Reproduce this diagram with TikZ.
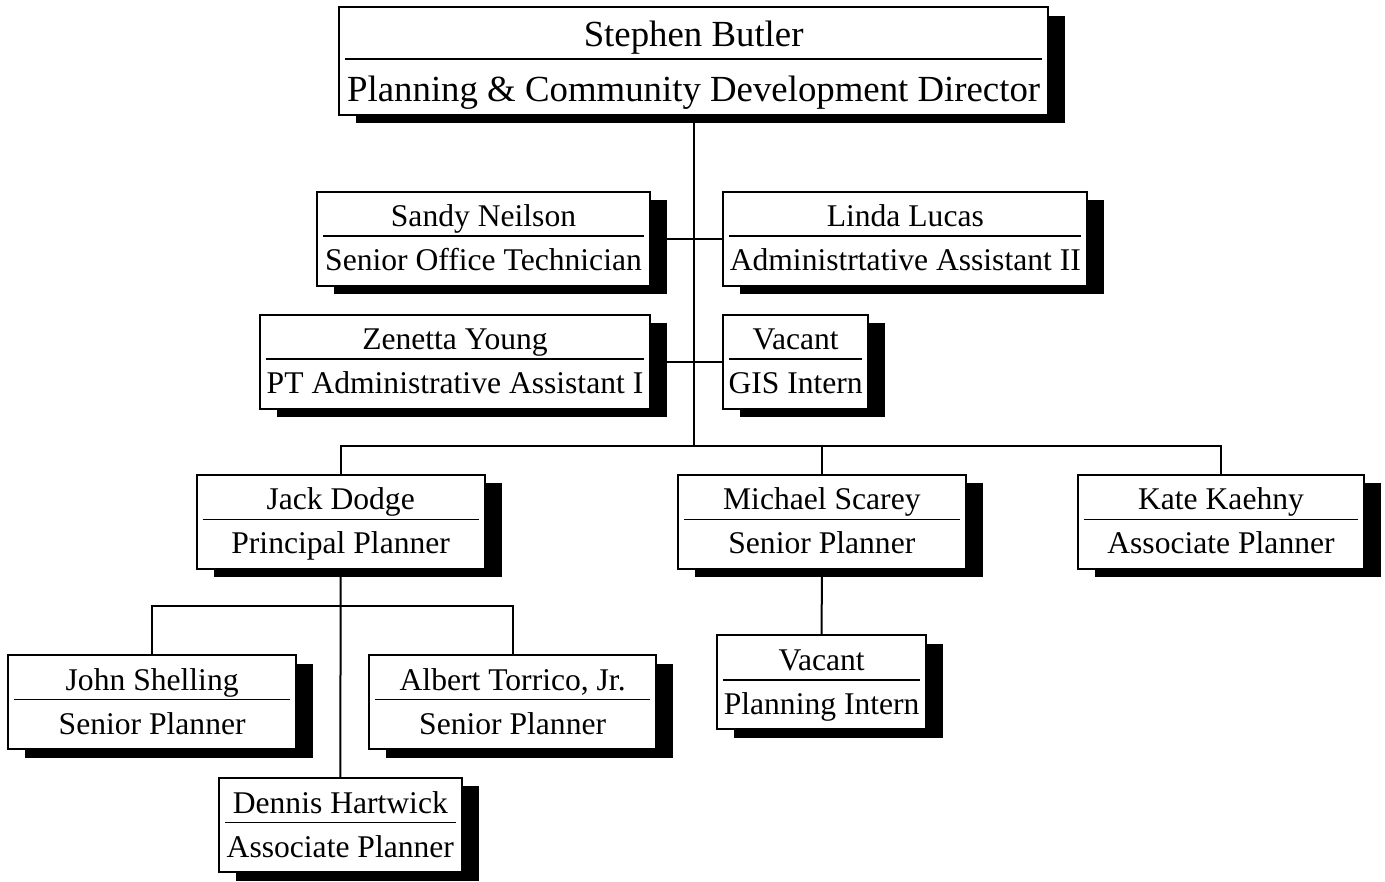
\documentclass[tikz,border=0pt]{standalone}
\usepackage{fontspec}
\setmainfont{Liberation Serif}
\usetikzlibrary{calc}

\tikzset{
  box/.style={draw=black, line width=2pt, fill=white, rectangle, inner sep=0pt, outer sep=0pt},
  dropshadow/.style={fill=black},
  divider/.style={draw=black, line width=1.1pt},
  wire/.style={draw=black, line width=2pt},
  txt/.style={anchor=base, inner sep=0pt, font=\fontsize{31.6}{38}\selectfont},
  bigtxt/.style={anchor=base, inner sep=0pt, font=\fontsize{36.8}{44}\selectfont},
}

% #1 node name, #2 left, #3 top, #4 right, #5 bottom, #6 divider y, #7 person, #8 position
\newcommand\orgbox[8]{%
  \fill[dropshadow] ({#2+17},{#3+8.5}) rectangle ({#4+17},{#5+8.5});
  \node[box, minimum width={(#4-#2)*1pt}, minimum height={(#5-#3)*1pt}]
    (#1) at ({(#2+#4)/2},{(#3+#5)/2}) {};
  \draw[divider] ({#2+6},#6) -- ({#4-6},#6);
  \node[txt] (#1-name) at ({(#2+#4)/2},{#6-9.5}) {#7};
  \node[txt] (#1-title) at ({(#2+#4)/2},{#6+34.5}) {#8};
}

\begin{document}
\begin{tikzpicture}[x=1pt,y=-1pt]
\useasboundingbox (0,0) rectangle (1385,882);

% director
\fill[dropshadow] (356.3,15.8) rectangle (1065,123.5);
\node[box, minimum width=708.7pt, minimum height=107.7pt] (director) at (693.65,61.15) {};
\draw[divider] (345.3,59) -- (1042,59);
\node[bigtxt] (director-name) at (693.65,46.7) {Stephen Butler};
\node[bigtxt] (director-title) at (693.65,101.7) {Planning \& Community Development Director};

% staff boxes
\orgbox{sandy}{317}{192}{650}{286}{236}{Sandy Neilson}{Senior Office Technician}
\orgbox{linda}{723.3}{192}{1087.3}{286}{236}{Linda Lucas}{Administrtative Assistant II}
\orgbox{zenetta}{260}{315}{650}{409}{359}{Zenetta Young}{PT Administrative Assistant I}
\orgbox{gis}{723}{315}{868.3}{409}{359}{Vacant}{GIS Intern}

\orgbox{jack}{196.5}{475}{484.8}{568.5}{519.3}{Jack Dodge}{Principal Planner}
\orgbox{michael}{678}{475}{965.7}{568.5}{519.3}{Michael Scarey}{Senior Planner}
\orgbox{kate}{1077.7}{475}{1364.3}{568.5}{519.3}{Kate Kaehny}{Associate Planner}

\orgbox{planint}{717.3}{635}{926}{729.3}{680}{Vacant}{Planning Intern}

\orgbox{john}{8.3}{655}{296}{749}{699.5}{John Shelling}{Senior Planner}
\orgbox{albert}{369.3}{655}{656}{749}{699.5}{Albert Torrico, Jr.}{Senior Planner}
\orgbox{dennis}{219}{777.5}{461.7}{872}{822.5}{Dennis Hartwick}{Associate Planner}

% reporting lines
\coordinate (bus) at (693.65,446);
\coordinate (jackbus) at (340.6,606);
\draw[wire] (director.south) -- (bus);
\draw[wire] (sandy.east) -- (linda.west);
\draw[wire] (zenetta.east) -- (gis.west);
\draw[wire] (jack.north) -- (jack.north |- bus) -- (kate.north |- bus) -- (kate.north);
\draw[wire] (michael.north) -- (michael.north |- bus);
\draw[wire] (michael.south) -- (planint.north);
\draw[wire] (jack.south) -- (dennis.north);
\draw[wire] (john.north) -- (john.north |- jackbus) -- (albert.north |- jackbus) -- (albert.north);
\end{tikzpicture}
\end{document}
